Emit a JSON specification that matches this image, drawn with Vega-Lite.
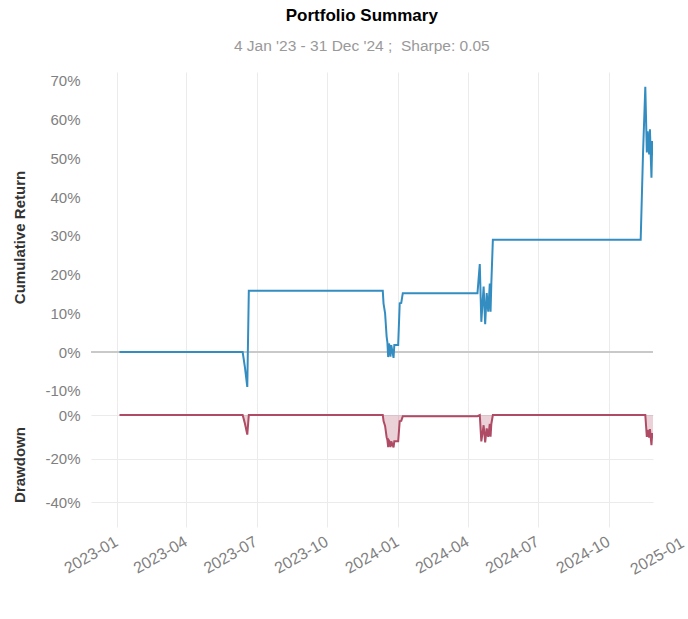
{
  "$schema": "https://vega.github.io/schema/vega-lite/v6.json",
  "background": "white",
  "padding": {"left": 12, "top": 6, "right": 5, "bottom": 5},
  "title": {
    "text": "Portfolio Summary",
    "subtitle": "4 Jan '23 - 31 Dec '24 ;\u00a0 Sharpe: 0.05",
    "font": "Liberation Sans",
    "fontSize": 17,
    "fontWeight": "bold",
    "color": "#000000",
    "subtitleFont": "Liberation Sans",
    "subtitleFontSize": 15.5,
    "subtitleColor": "#999999",
    "subtitlePadding": 14,
    "offset": 17,
    "anchor": "middle",
    "dx": 12
  },
  "datasets": {
    "perf": [
      {"date": "2023-01-04", "ret": 0.0, "dd": 0.0},
      {"date": "2023-06-13", "ret": 0.0, "dd": 0.0},
      {"date": "2023-06-16", "ret": -0.04, "dd": -0.04},
      {"date": "2023-06-19", "ret": -0.09, "dd": -0.09},
      {"date": "2023-06-21", "ret": 0.158, "dd": 0.0},
      {"date": "2023-12-12", "ret": 0.158, "dd": 0.0},
      {"date": "2023-12-13", "ret": 0.125, "dd": -0.028},
      {"date": "2023-12-15", "ret": 0.10, "dd": -0.05},
      {"date": "2023-12-17", "ret": 0.04, "dd": -0.102},
      {"date": "2023-12-18", "ret": 0.025, "dd": -0.115},
      {"date": "2023-12-19", "ret": -0.013, "dd": -0.148},
      {"date": "2023-12-20", "ret": 0.022, "dd": -0.117},
      {"date": "2023-12-21", "ret": 0.015, "dd": -0.123},
      {"date": "2023-12-22", "ret": -0.012, "dd": -0.147},
      {"date": "2023-12-23", "ret": 0.018, "dd": -0.121},
      {"date": "2023-12-26", "ret": -0.015, "dd": -0.149},
      {"date": "2023-12-27", "ret": 0.018, "dd": -0.121},
      {"date": "2024-01-01", "ret": 0.018, "dd": -0.121},
      {"date": "2024-01-03", "ret": 0.126, "dd": -0.028},
      {"date": "2024-01-05", "ret": 0.127, "dd": -0.027},
      {"date": "2024-01-07", "ret": 0.152, "dd": -0.005},
      {"date": "2024-04-13", "ret": 0.152, "dd": -0.005},
      {"date": "2024-04-16", "ret": 0.227, "dd": 0.0},
      {"date": "2024-04-18", "ret": 0.078, "dd": -0.121},
      {"date": "2024-04-21", "ret": 0.169, "dd": -0.047},
      {"date": "2024-04-23", "ret": 0.072, "dd": -0.126},
      {"date": "2024-04-25", "ret": 0.152, "dd": -0.061},
      {"date": "2024-04-27", "ret": 0.104, "dd": -0.10},
      {"date": "2024-04-29", "ret": 0.177, "dd": -0.041},
      {"date": "2024-04-30", "ret": 0.104, "dd": -0.10},
      {"date": "2024-05-01", "ret": 0.177, "dd": -0.041},
      {"date": "2024-05-03", "ret": 0.29, "dd": 0.0},
      {"date": "2024-11-11", "ret": 0.29, "dd": 0.0},
      {"date": "2024-11-14", "ret": 0.51, "dd": 0.0},
      {"date": "2024-11-17", "ret": 0.685, "dd": 0.0},
      {"date": "2024-11-19", "ret": 0.515, "dd": -0.101},
      {"date": "2024-11-20", "ret": 0.57, "dd": -0.068},
      {"date": "2024-11-22", "ret": 0.51, "dd": -0.104},
      {"date": "2024-11-23", "ret": 0.575, "dd": -0.065},
      {"date": "2024-11-25", "ret": 0.45, "dd": -0.139},
      {"date": "2024-11-26", "ret": 0.545, "dd": -0.083},
      {"date": "2024-11-27", "ret": 0.51, "dd": -0.104}
    ],
    "xlab": [{"date": "2025-01-01", "label": "2025-01"}]
  },
  "spacing": 0,
  "resolve": {"scale": {"y": "independent"}},
  "vconcat": [
    {
      "width": 562,
      "height": 330,
      "data": {"name": "perf"},
      "layer": [
        {
          "mark": {"type": "rule", "color": "#c8c8c8", "strokeWidth": 1.5},
          "encoding": {
            "y": {"datum": 0, "type": "quantitative", "title": "Cumulative Return"}
          }
        },
        {
          "mark": {"type": "line", "color": "#348dc1", "strokeWidth": 2, "clip": true},
          "encoding": {
            "x": {
              "field": "date", "type": "temporal", "title": null,
              "scale": {"type": "utc", "domain": [{"year": 2022, "month": 11, "date": 28, "utc": true}, {"year": 2024, "month": 11, "date": 27, "utc": true}]},
              "axis": {
                "labels": false, "grid": true,
                "values": [
                  {"year": 2023, "month": 1, "date": 1, "utc": true},
                  {"year": 2023, "month": 4, "date": 1, "utc": true},
                  {"year": 2023, "month": 7, "date": 1, "utc": true},
                  {"year": 2023, "month": 10, "date": 1, "utc": true},
                  {"year": 2024, "month": 1, "date": 1, "utc": true},
                  {"year": 2024, "month": 4, "date": 1, "utc": true},
                  {"year": 2024, "month": 7, "date": 1, "utc": true},
                  {"year": 2024, "month": 10, "date": 1, "utc": true}
                ]
              }
            },
            "y": {
              "field": "ret", "type": "quantitative", "title": "Cumulative Return",
              "scale": {"domain": [-0.129, 0.723], "nice": false, "zero": false},
              "axis": {
                "values": [-0.1, 0, 0.1, 0.2, 0.3, 0.4, 0.5, 0.6, 0.7],
                "labelExpr": "round(datum.value * 100) + '%'"
              }
            }
          }
        }
      ]
    },
    {
      "width": 562,
      "height": 125,
      "layer": [
        {
          "data": {"name": "perf"},
          "mark": {"type": "area", "color": "#af4b64", "opacity": 0.25, "clip": true},
          "encoding": {
            "x": {
              "field": "date", "type": "temporal", "title": null,
              "scale": {"type": "utc", "domain": [{"year": 2022, "month": 11, "date": 28, "utc": true}, {"year": 2024, "month": 11, "date": 27, "utc": true}]},
              "axis": {
                "grid": true,
                "format": "%Y-%m",
                "labelAngle": -30,
                "labelAlign": "right",
                "labelBaseline": "top",
                "labelFontSize": 16,
                "labelPadding": 6,
                "labelOffset": -5,
                "values": [
                  {"year": 2023, "month": 1, "date": 1, "utc": true},
                  {"year": 2023, "month": 4, "date": 1, "utc": true},
                  {"year": 2023, "month": 7, "date": 1, "utc": true},
                  {"year": 2023, "month": 10, "date": 1, "utc": true},
                  {"year": 2024, "month": 1, "date": 1, "utc": true},
                  {"year": 2024, "month": 4, "date": 1, "utc": true},
                  {"year": 2024, "month": 7, "date": 1, "utc": true},
                  {"year": 2024, "month": 10, "date": 1, "utc": true}
                ]
              }
            },
            "y": {
              "field": "dd", "type": "quantitative", "title": "Drawdown", "stack": null,
              "scale": {"domain": [-0.515, 0.06], "nice": false, "zero": false},
              "axis": {
                "values": [-0.4, -0.2, 0],
                "labelExpr": "round(datum.value * 100) + '%'"
              }
            }
          }
        },
        {
          "mark": {"type": "rule", "color": "#c8c8c8", "strokeWidth": 1.5},
          "encoding": {
            "y": {"datum": 0, "type": "quantitative", "title": "Drawdown"}
          }
        },
        {
          "data": {"name": "perf"},
          "mark": {"type": "line", "color": "#af4b64", "strokeWidth": 2, "clip": true},
          "encoding": {
            "x": {"field": "date", "type": "temporal", "title": null},
            "y": {"field": "dd", "type": "quantitative", "title": "Drawdown"}
          }
        },
        {
          "data": {"name": "xlab"},
          "mark": {"type": "text", "angle": -30, "align": "right", "baseline": "top", "dx": -5, "dy": 6, "font": "Liberation Sans", "fontSize": 16, "color": "#808080"},
          "encoding": {
            "x": {"field": "date", "type": "temporal", "title": null},
            "y": {"datum": -0.515, "type": "quantitative", "title": "Drawdown"},
            "text": {"field": "label"}
          }
        }
      ]
    }
  ],
  "config": {
    "view": {"stroke": null},
    "axis": {
      "domain": false,
      "ticks": false,
      "tickSize": 0,
      "gridColor": "#ebebeb",
      "gridWidth": 1,
      "labelFont": "Liberation Sans",
      "labelFontSize": 15,
      "labelColor": "#808080",
      "labelPadding": 11,
      "titleFont": "Liberation Sans",
      "titleFontSize": 15,
      "titleFontWeight": "bold",
      "titleColor": "#333333",
      "titlePadding": 17
    }
  }
}
